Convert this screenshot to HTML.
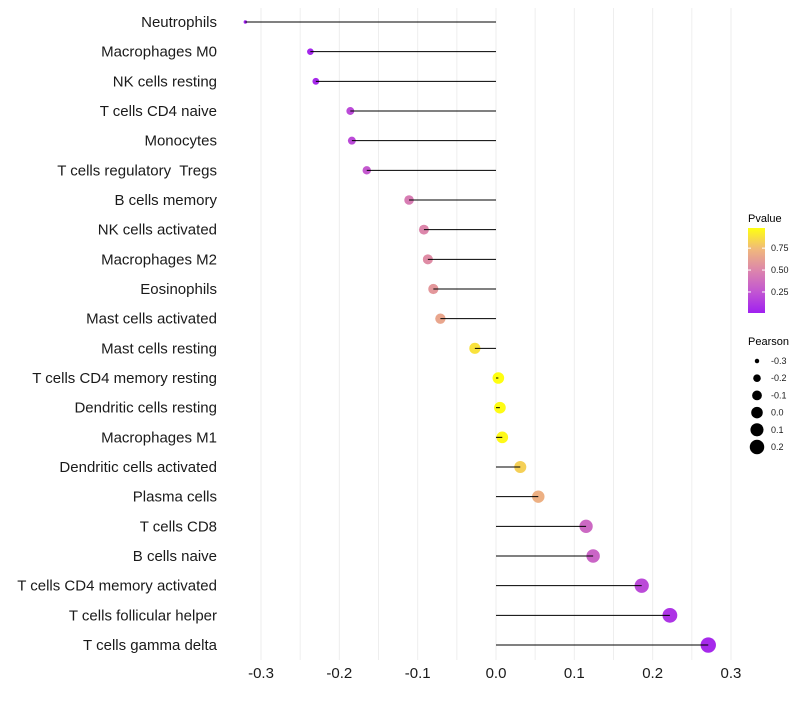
<!DOCTYPE html>
<html><head><meta charset="utf-8"><style>
body{margin:0;background:#fff;font-family:"Liberation Sans",sans-serif}
text{white-space:pre}
</style></head><body>
<svg id="chart" width="800" height="700" xmlns="http://www.w3.org/2000/svg">
<defs><linearGradient id="pg" x1="0" y1="1" x2="0" y2="0">
<stop offset="0" stop-color="#A020F0"/><stop offset="0.25" stop-color="#C256D2"/><stop offset="0.5" stop-color="#DC85AC"/><stop offset="0.75" stop-color="#F0B87C"/><stop offset="1" stop-color="#FFFF10"/></linearGradient></defs>
<g id="grid"></g><g id="dots"></g><g id="marks"></g><g id="axes"></g><g id="legend"></g>
</svg>
<script>
const categories=["Neutrophils","Macrophages M0","NK cells resting","T cells CD4 naive","Monocytes","T cells regulatory  Tregs","B cells memory","NK cells activated","Macrophages M2","Eosinophils","Mast cells activated","Mast cells resting","T cells CD4 memory resting","Dendritic cells resting","Macrophages M1","Dendritic cells activated","Plasma cells","T cells CD8","B cells naive","T cells CD4 memory activated","T cells follicular helper","T cells gamma delta"];
const pearson=[-0.320,-0.237,-0.230,-0.186,-0.184,-0.165,-0.111,-0.092,-0.087,-0.080,-0.071,-0.027,0.003,0.005,0.008,0.031,0.054,0.115,0.124,0.186,0.222,0.271];
const pvalue=[0.01,0.04,0.05,0.2,0.2,0.27,0.45,0.5,0.53,0.58,0.65,0.88,0.98,0.97,0.96,0.82,0.7,0.35,0.33,0.2,0.1,0.05];
const xTicks=[-0.3,-0.2,-0.1,0.0,0.1,0.2,0.3];
const xTickLabels=["-0.3","-0.2","-0.1","0.0","0.1","0.2","0.3"];
const pTicks=[0.25,0.5,0.75];
const sizeBreaks=[-0.3,-0.2,-0.1,0.0,0.1,0.2];
const NS="http://www.w3.org/2000/svg";
const X=v=>496+v*783.3;
const Y=i=>22+i*29.667;
const R=v=>Math.sqrt(Math.max(2.5,3+(v+0.32)*95));
const stops=[[0,[160,32,240]],[0.25,[194,86,210]],[0.5,[220,133,172]],[0.75,[240,184,124]],[1,[255,255,16]]];
const pmin=0.01,pmax=0.98;
function col(p){let t=(p-pmin)/(pmax-pmin);t=Math.max(0,Math.min(1,t));
for(let k=1;k<stops.length;k++){if(t<=stops[k][0]){const a=stops[k-1],b=stops[k],f=(t-a[0])/(b[0]-a[0]);
return "rgb("+a[1].map((c,j)=>Math.round(c+(b[1][j]-c)*f)).join(",")+")";}}return "rgb(255,255,16)";}
function mk(tag,attrs,parent,text){const e=document.createElementNS(NS,tag);for(const k in attrs)e.setAttribute(k,attrs[k]);if(text!==undefined)e.textContent=text;parent.appendChild(e);return e;}
const grid=document.getElementById('grid'),dots=document.getElementById('dots'),marks=document.getElementById('marks'),axes=document.getElementById('axes'),leg=document.getElementById('legend');
for(let v=-0.35;v<=0.351;v+=0.05){const x=X(v);if(x<225||x>742)continue;
const l=mk('line',{x1:x,x2:x,y1:8,y2:660,stroke:'#eeeeee','stroke-width':1},grid);
}
categories.forEach((c,i)=>{
const t=mk('text',{x:217,y:Y(i)+5,'text-anchor':'end','font-size':15,fill:'#1a1a1a'},axes,c);

const d=mk('circle',{cx:X(pearson[i]),cy:Y(i),r:R(pearson[i]),fill:col(pvalue[i])},dots);

const s=mk('line',{x1:X(0),x2:X(pearson[i]),y1:Y(i),y2:Y(i),stroke:'#000','stroke-width':1},marks);
});
xTicks.forEach((v,i)=>{const t=mk('text',{x:X(v),y:678,'text-anchor':'middle','font-size':15,fill:'#1a1a1a'},axes,xTickLabels[i]);
});
let t=mk('text',{x:748,y:222,'font-size':11,fill:'#000'},leg,'Pvalue');
const bar=mk('rect',{x:748,y:228,width:17,height:85,fill:'url(#pg)'},leg);
const PY=p=>313-(p-pmin)/(pmax-pmin)*85;
pTicks.forEach(p=>{mk('line',{x1:748,x2:751,y1:PY(p),y2:PY(p),stroke:'#fff'},leg);mk('line',{x1:762,x2:765,y1:PY(p),y2:PY(p),stroke:'#fff'},leg);
const l=mk('text',{x:771,y:PY(p)+3,'font-size':9,fill:'#1a1a1a'},leg,p.toFixed(2));});
t=mk('text',{x:748,y:345,'font-size':11,fill:'#000'},leg,'Pearson');
sizeBreaks.forEach((v,i)=>{const y=361+i*17.2;const c=mk('circle',{cx:757,cy:y,r:R(v),fill:'#000'},leg);

const l=mk('text',{x:771,y:y+3,'font-size':9,fill:'#1a1a1a'},leg,v.toFixed(1));});
</script>
</body></html>
